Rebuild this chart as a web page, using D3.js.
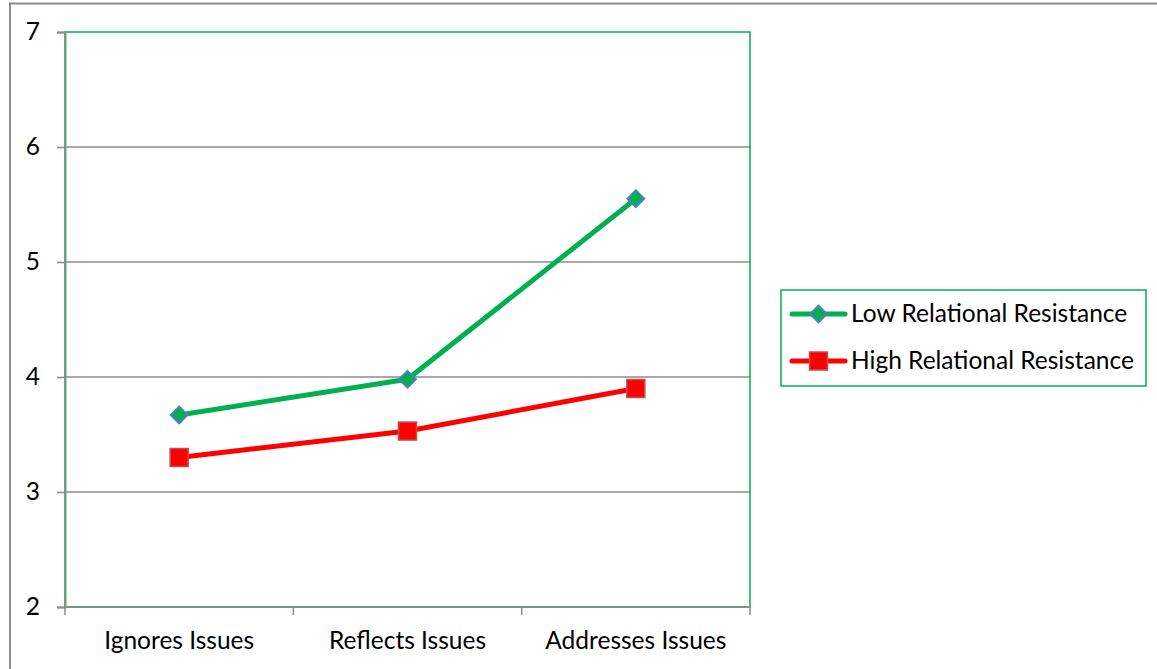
<!DOCTYPE html>
<html>
<head>
<meta charset="utf-8">
<script src="https://cdn.jsdelivr.net/npm/d3@7"></script>
<style>
  html, body { margin: 0; padding: 0; background: #fff; }
  svg { display: block; }
  text { font-family: Lato, "Open Sans", sans-serif; fill: #000; }
</style>
</head>
<body>
<svg id="chart" width="1157" height="669"></svg>
<script>
// Chart data
const categories = ["Ignores Issues", "Reflects Issues", "Addresses Issues"];
const lowResistance = [3.67, 3.98, 5.55];
const highResistance = [3.30, 3.53, 3.90];
const yTicks = [2, 3, 4, 5, 6, 7];
const seriesNames = ["Low Relational Resistance", "High Relational Resistance"];

const svg = d3.select("#chart");
const W = 1157, H = 669;
const FONT = 24.5;

// Outer chart frame
svg.append("rect")
  .attr("x", 10).attr("y", 3.5)
  .attr("width", W + 20).attr("height", H + 20)
  .attr("fill", "#fff").attr("stroke", "#8a8a8a").attr("stroke-width", 2);

const plot = { left: 65, right: 750, top: 32, bottom: 607 };

const x = d3.scaleBand().domain(categories).range([plot.left, plot.right]);
const y = d3.scaleLinear().domain([2, 7]).range([plot.bottom, plot.top]);

// Gridlines
svg.append("g")
  .selectAll("line")
  .data(yTicks.filter(t => t > 2 && t < 7))
  .join("line")
  .attr("x1", plot.left).attr("x2", plot.right)
  .attr("y1", d => y(d)).attr("y2", d => y(d))
  .attr("stroke", "#8c8c8c").attr("stroke-width", 1.5);

// Plot area border (green)
svg.append("rect")
  .attr("x", plot.left).attr("y", plot.top)
  .attr("width", plot.right - plot.left).attr("height", plot.bottom - plot.top)
  .attr("fill", "none").attr("stroke", "#00b050").attr("stroke-width", 1.5);

// Y axis
const yAxis = d3.axisLeft(y).tickValues(yTicks).tickSize(8).tickPadding(17).tickFormat(d3.format("d"));
const gy = svg.append("g").attr("transform", `translate(${plot.left},0)`).call(yAxis);
gy.select(".domain").attr("stroke", "#6f9c80").attr("stroke-width", 2);
gy.selectAll(".tick line").attr("stroke", "#8c8c8c").attr("stroke-width", 1.5);
gy.selectAll(".tick text").attr("font-size", FONT).style("font-family", "Lato, 'Open Sans', sans-serif").attr("fill", "#000");

// X axis: ticks at category boundaries
const gx = svg.append("g").attr("transform", `translate(0,${plot.bottom})`);
gx.append("line")
  .attr("x1", plot.left).attr("x2", plot.right)
  .attr("y1", 0).attr("y2", 0)
  .attr("stroke", "#6f9c80").attr("stroke-width", 2);
const bounds = categories.map(c => x(c)).concat([x(categories[categories.length - 1]) + x.bandwidth()]);
gx.selectAll("line.tick")
  .data(bounds)
  .join("line")
  .attr("class", "tick")
  .attr("x1", d => d).attr("x2", d => d)
  .attr("y1", 0).attr("y2", 8)
  .attr("stroke", "#8c8c8c").attr("stroke-width", 1.5);
gx.selectAll("text")
  .data(categories)
  .join("text")
  .attr("x", d => x(d) + x.bandwidth() / 2)
  .attr("y", 42)
  .attr("text-anchor", "middle")
  .attr("font-size", FONT)
  .text(d => d);

// Series lines and markers
const cx = c => x(c) + x.bandwidth() / 2;
const line = d3.line().x(d => cx(d.c)).y(d => y(d.v));

const series = [
  { name: seriesNames[0], values: lowResistance, color: "#00b050", marker: "diamond", mfill: "#00b050", mstroke: "#4f81bd" },
  { name: seriesNames[1], values: highResistance, color: "#ff0000", marker: "square", mfill: "#ff0000", mstroke: "#c0504d" }
];

function drawMarker(g, type, px, py, fill, stroke) {
  if (type === "diamond") {
    const r = 8.5;
    g.append("path")
      .attr("d", `M${px},${py - r}L${px + r},${py}L${px},${py + r}L${px - r},${py}Z`)
      .attr("fill", fill).attr("stroke", stroke).attr("stroke-width", 1.8);
  } else {
    const s = 18;
    g.append("rect")
      .attr("x", px - s / 2).attr("y", py - s / 2)
      .attr("width", s).attr("height", s)
      .attr("fill", fill).attr("stroke", stroke).attr("stroke-width", 1.5);
  }
}

series.forEach(s => {
  const pts = categories.map((c, i) => ({ c, v: s.values[i] }));
  svg.append("path")
    .datum(pts)
    .attr("d", line)
    .attr("fill", "none")
    .attr("stroke", s.color)
    .attr("stroke-width", 5)
    .attr("stroke-linejoin", "round");
  const mg = svg.append("g");
  pts.forEach(p => drawMarker(mg, s.marker, cx(p.c), y(p.v), s.mfill, s.mstroke));
});

// Legend
const legend = svg.append("g");
legend.append("rect")
  .attr("x", 781).attr("y", 290)
  .attr("width", 365).attr("height", 96)
  .attr("fill", "#fff").attr("stroke", "#00b050").attr("stroke-width", 1.5);
series.forEach((s, i) => {
  const ly = 314 + i * 47;
  legend.append("line")
    .attr("x1", 792).attr("x2", 845)
    .attr("y1", ly).attr("y2", ly)
    .attr("stroke", s.color).attr("stroke-width", 5)
    .attr("stroke-linecap", "round");
  drawMarker(legend, s.marker, 818.5, ly, s.mfill, s.mstroke);
  legend.append("text")
    .attr("x", 851).attr("y", ly + 8)
    .attr("font-size", FONT)
    .text(s.name);
});
</script>
</body>
</html>
